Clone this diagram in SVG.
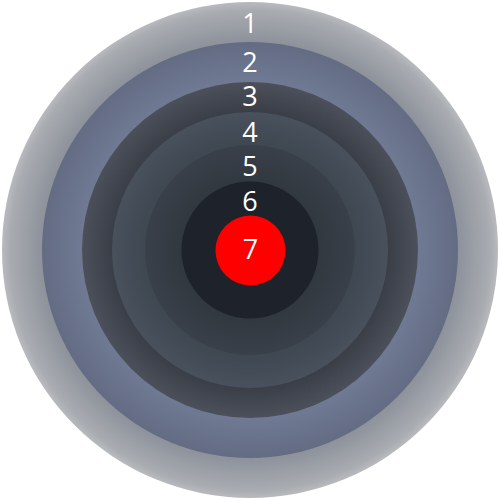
<svg xmlns="http://www.w3.org/2000/svg" width="500" height="500" viewBox="0 0 500 500">
<defs>
<radialGradient id="g1" gradientUnits="userSpaceOnUse" cx="250" cy="250" r="248">
<stop offset="0.84" stop-color="#8d929b"/><stop offset="0.97" stop-color="#a9acb1"/><stop offset="1" stop-color="#b8babe"/>
</radialGradient>
<radialGradient id="g2" gradientUnits="userSpaceOnUse" cx="250" cy="250" r="208">
<stop offset="0.8" stop-color="#707a94"/><stop offset="1" stop-color="#636c83"/>
</radialGradient>
<radialGradient id="g3" gradientUnits="userSpaceOnUse" cx="250" cy="250" r="168">
<stop offset="0.82" stop-color="#3a3e47"/><stop offset="1" stop-color="#4c505a"/>
</radialGradient>
<radialGradient id="g4" gradientUnits="userSpaceOnUse" cx="250" cy="250" r="138">
<stop offset="0.76" stop-color="#3f4751"/><stop offset="1" stop-color="#48515c"/>
</radialGradient>
<radialGradient id="g5" gradientUnits="userSpaceOnUse" cx="250" cy="250" r="105">
<stop offset="0.65" stop-color="#32383f"/><stop offset="1" stop-color="#3a404a"/>
</radialGradient>
</defs>
<style>
text{font-family:"Open Sans","Noto Sans",sans-serif;font-size:27px;fill:#ffffff;text-anchor:middle}
</style>
<g id="ring1"><circle cx="250" cy="250" r="248" fill="url(#g1)"/><text x="250" y="33">1</text></g>
<g id="ring2"><circle cx="250" cy="250" r="208" fill="url(#g2)"/><text x="250" y="72">2</text></g>
<g id="ring3"><circle cx="250" cy="250" r="168" fill="url(#g3)"/><text x="250" y="106">3</text></g>
<g id="ring4"><circle cx="250" cy="250" r="138" fill="url(#g4)"/><text x="250" y="142">4</text></g>
<g id="ring5"><circle cx="250" cy="250" r="105" fill="url(#g5)"/><text x="250" y="176">5</text></g>
<g id="ring6"><circle cx="250" cy="250" r="68.5" fill="#1e232b"/><text x="250" y="211">6</text></g>
<g id="ring7"><circle cx="250.5" cy="250.5" r="35" fill="#ff0000"/><text x="250.5" y="259">7</text></g>
</svg>
